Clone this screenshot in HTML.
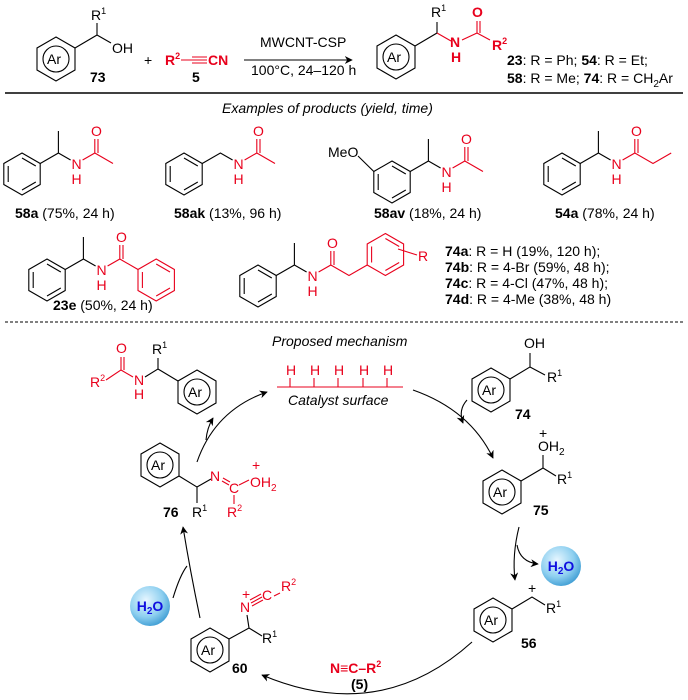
<!DOCTYPE html>
<html><head><meta charset="utf-8"><style>
html,body{margin:0;padding:0;background:#fff}
svg{display:block}
text{font-family:"Liberation Sans",Arial,sans-serif;font-size:14px;fill:#000}
.r{fill:#e8001c}
.b{font-weight:bold}
.i{font-style:italic}
.k{stroke:#000;stroke-width:1.1;fill:none}
.rd{stroke:#e8001c;stroke-width:1.1;fill:none}
</style></head><body>
<svg width="688" height="700" viewBox="0 0 688 700" xmlns="http://www.w3.org/2000/svg">
<defs>
<g id="ph" fill="none">
<polygon points="0,-21 18.2,-10.5 18.2,10.5 0,21 -18.2,10.5 -18.2,-10.5"/>
<line x1="0" y1="-16" x2="13.8" y2="-8"/><line x1="13.8" y1="8" x2="0" y2="16"/><line x1="-13.8" y1="8" x2="-13.8" y2="-8"/>
</g>
<g id="ar" fill="none">
<polygon points="0,-22 19,-11 19,11 0,22 -19,11 -19,-11"/>
<circle r="13"/>
</g>
<radialGradient id="wg" cx="0.4" cy="0.35" r="0.7">
<stop offset="0" stop-color="#e6f6ff"/><stop offset="0.6" stop-color="#8fd0f0"/><stop offset="1" stop-color="#3a9ad2"/>
</radialGradient>
<marker id="ah" viewBox="0 0 10 10" refX="9" refY="5" markerWidth="8" markerHeight="8" orient="auto-start-reverse" markerUnits="userSpaceOnUse">
<path d="M0,0 L10,5 L0,10 L3,5 z" fill="#000"/>
</marker>
</defs>

<!-- TOP SCHEME -->
<use href="#ar" transform="translate(56,59)" stroke="#000" stroke-width="1.1"/>
<text x="47" y="64">Ar</text>
<path class="k" d="M75,48 L97,35 L97,23 M97,35 L111,43"/>
<text x="91" y="20">R<tspan dy="-6" font-size="9">1</tspan></text>
<text x="112" y="53">OH</text>
<text x="90" y="82" class="b">73</text>
<text x="144" y="65" font-size="16">+</text>
<text x="165" y="65" class="r b">R<tspan dy="-6" font-size="9">2</tspan></text>
<path class="rd" d="M181,60 L207,60 M192,57 L207,57 M192,63 L207,63"/>
<text x="208" y="65" class="r b">CN</text>
<text x="192" y="82" class="b">5</text>
<line x1="244" y1="60" x2="352" y2="60" class="k" marker-end="url(#ah)"/>
<text x="260" y="47" font-size="13">MWCNT-CSP</text>
<text x="251" y="75" font-size="13">100°C, 24–120 h</text>

<use href="#ar" transform="translate(396,57)" stroke="#000" stroke-width="1.1"/>
<text x="387" y="62">Ar</text>
<path class="k" d="M415,46 L437,33 L437,22"/>
<text x="431" y="17">R<tspan dy="-6" font-size="9">1</tspan></text>
<path class="rd" d="M437,33 L451,41 M462,40 L477,33 L477,21 M480,33 L480,21 M477,33 L490,40"/>
<text x="450" y="47" class="r b">N</text>
<text x="451" y="62" class="r b">H</text>
<text x="472" y="17" class="r b">O</text>
<text x="492" y="50" class="r b">R<tspan dy="-6" font-size="9">2</tspan></text>
<text x="507" y="65"><tspan class="b">23</tspan>: R = Ph; <tspan class="b">54</tspan>: R = Et;</text>
<text x="507" y="83"><tspan class="b">58</tspan>: R = Me; <tspan class="b">74</tspan>: R = CH<tspan dy="4" font-size="10">2</tspan><tspan dy="-4">Ar</tspan></text>
<line x1="5" y1="93" x2="683" y2="93" stroke="#000" stroke-width="1.5"/>

<!-- EXAMPLES -->
<text x="222" y="113" class="i" font-size="13.5">Examples of products (yield, time)</text>

<!-- 58a -->
<use href="#ph" transform="translate(22,174)" stroke="#000" stroke-width="1.1"/>
<path class="k" d="M40.2,163.5 L58.4,153 L58.4,131 M58.4,153 L70.6,160"/>
<path class="rd" d="M82.6,160 L94.8,153 L94.8,139 M98,153 L98,139 M94.8,153 L113,163.5"/>
<text x="71.5" y="169" class="r">N</text><text x="71.5" y="184" class="r">H</text>
<text x="91" y="136" class="r">O</text>
<text x="15" y="218"><tspan class="b">58a</tspan> (75%, 24 h)</text>

<!-- 58ak -->
<use href="#ph" transform="translate(184,174)" stroke="#000" stroke-width="1.1"/>
<path class="k" d="M202.2,163.5 L220.4,153 L232.6,160"/>
<path class="rd" d="M244.6,160 L256.8,153 L256.8,139 M260,153 L260,139 M256.8,153 L275,163.5"/>
<text x="233.5" y="169" class="r">N</text><text x="233.5" y="184" class="r">H</text>
<text x="253" y="136" class="r">O</text>
<text x="174" y="218"><tspan class="b">58ak</tspan> (13%, 96 h)</text>

<!-- 58av -->
<use href="#ph" transform="translate(392,182)" stroke="#000" stroke-width="1.1"/>
<path class="k" d="M373.8,171.5 L358,156 M410.2,171.5 L428.4,161 L428.4,139 M428.4,161 L440.6,168"/>
<text x="328" y="157">MeO</text>
<path class="rd" d="M452.6,168 L464.8,161 L464.8,147 M468,161 L468,147 M464.8,161 L483,171.5"/>
<text x="441.5" y="177" class="r">N</text><text x="441.5" y="192" class="r">H</text>
<text x="461" y="144" class="r">O</text>
<text x="374" y="218"><tspan class="b">58av</tspan> (18%, 24 h)</text>

<!-- 54a -->
<use href="#ph" transform="translate(562,174)" stroke="#000" stroke-width="1.1"/>
<path class="k" d="M580.2,163.5 L598.4,153 L598.4,131 M598.4,153 L610.6,160"/>
<path class="rd" d="M622.6,160 L634.8,153 L634.8,139 M638,153 L638,139 M634.8,153 L653,163.5 L671.2,153"/>
<text x="611.5" y="169" class="r">N</text><text x="611.5" y="184" class="r">H</text>
<text x="631" y="136" class="r">O</text>
<text x="555" y="218"><tspan class="b">54a</tspan> (78%, 24 h)</text>

<!-- 23e -->
<use href="#ph" transform="translate(47,280)" stroke="#000" stroke-width="1.1"/>
<path class="k" d="M65.2,269.5 L83.4,259 L83.4,237 M83.4,259 L95.6,266"/>
<path class="rd" d="M107.6,266 L119.8,259 L119.8,245 M123,259 L123,245 M119.8,259 L138,269.5"/>
<use href="#ph" transform="translate(156.2,280)" stroke="#e8001c" stroke-width="1.1"/>
<text x="96.5" y="275" class="r">N</text><text x="96.5" y="290" class="r">H</text>
<text x="116" y="242" class="r">O</text>
<text x="53" y="310"><tspan class="b">23e</tspan> (50%, 24 h)</text>

<!-- 74 -->
<use href="#ph" transform="translate(258,286)" stroke="#000" stroke-width="1.1"/>
<path class="k" d="M276.2,275.5 L294.4,265 L294.4,243 M294.4,265 L306.6,272"/>
<path class="rd" d="M318.6,272 L330.8,265 L330.8,251 M334,265 L334,251 M330.8,265 L349,275.5 L367.2,265"/>
<use href="#ph" transform="translate(385.4,254.5)" stroke="#e8001c" stroke-width="1.1"/>
<path class="rd" d="M398,249 L417,255"/>
<text x="418" y="261" class="r">R</text>
<text x="307.5" y="281" class="r">N</text><text x="307.5" y="296" class="r">H</text>
<text x="327" y="248" class="r">O</text>
<text x="445" y="256"><tspan class="b">74a</tspan>: R = H (19%, 120 h);</text>
<text x="445" y="272"><tspan class="b">74b</tspan>: R = 4-Br (59%, 48 h);</text>
<text x="445" y="288"><tspan class="b">74c</tspan>: R = 4-Cl (47%, 48 h);</text>
<text x="445" y="304"><tspan class="b">74d</tspan>: R = 4-Me (38%, 48 h)</text>

<line x1="5" y1="322" x2="683" y2="322" stroke="#000" stroke-width="1" stroke-dasharray="3,2"/>

<!-- MECHANISM -->
<text x="272" y="346" class="i" font-size="13.5">Proposed mechanism</text>
<path class="rd" d="M277,387 L403,387 M290,378 L290,387 M314,378 L314,387 M338,378 L338,387 M363,378 L363,387 M387,378 L387,387"/>
<text x="286" y="375" class="r" font-size="13">H</text><text x="310" y="375" class="r" font-size="13">H</text><text x="334" y="375" class="r" font-size="13">H</text><text x="359" y="375" class="r" font-size="13">H</text><text x="383" y="375" class="r" font-size="13">H</text>
<text x="288" y="405" class="i" font-size="13.5">Catalyst surface</text>

<!-- top-left product -->
<text x="90" y="387" class="r">R<tspan dy="-6" font-size="9">2</tspan></text>
<path class="rd" d="M106,380 L121,370 L121,357 M124,370 L124,357 M121,370 L133,377"/>
<text x="116" y="353" class="r">O</text>
<text x="134" y="385" class="r">N</text><text x="134" y="399" class="r">H</text>
<path class="k" d="M145,377 L158,369 L158,358 M158,369 L178,381"/>
<text x="152" y="354">R<tspan dy="-6" font-size="9">1</tspan></text>
<use href="#ar" transform="translate(197,392)" stroke="#000" stroke-width="1.1"/>
<text x="188" y="397">Ar</text>

<!-- 74 -->
<use href="#ar" transform="translate(491,390)" stroke="#000" stroke-width="1.1"/>
<text x="482" y="395">Ar</text>
<path class="k" d="M510,379 L530,367 L530,353 M530,367 L545,375"/>
<text x="524" y="348">OH</text>
<text x="547" y="382">R<tspan dy="-6" font-size="9">1</tspan></text>
<text x="515" y="419" class="b">74</text>

<!-- 75 -->
<use href="#ar" transform="translate(502,492)" stroke="#000" stroke-width="1.1"/>
<text x="493" y="497">Ar</text>
<path class="k" d="M521,481 L543,468 L543,455 M543,468 L556,476"/>
<text x="538" y="451">OH<tspan dy="4" font-size="10">2</tspan></text>
<text x="539" y="438" font-size="10">+</text>
<text x="557" y="484">R<tspan dy="-6" font-size="9">1</tspan></text>
<text x="533" y="515" class="b">75</text>

<!-- 76 -->
<use href="#ar" transform="translate(160,465)" stroke="#000" stroke-width="1.1"/>
<text x="151" y="470">Ar</text>
<path class="k" d="M179,476 L197,487 L197,503 M197,487 L211,479"/>
<text x="192" y="517">R<tspan dy="-6" font-size="9">1</tspan></text>
<text x="163" y="517" class="b">76</text>
<text x="210" y="481" class="r">N</text>
<path class="rd" d="M222,481 L229,485 M223,478 L230,482 M239,485 L249,480 M234,495 L234,504"/>
<text x="229" y="493" class="r">C</text>
<text x="250" y="487" class="r">OH<tspan dy="4" font-size="10">2</tspan></text>
<text x="252" y="470" font-size="10" class="r">+</text>
<text x="227" y="517" class="r">R<tspan dy="-6" font-size="9">2</tspan></text>

<!-- 56 -->
<use href="#ar" transform="translate(493,620)" stroke="#000" stroke-width="1.1"/>
<text x="484" y="625">Ar</text>
<path class="k" d="M512,609 L532,597 L545,605"/>
<text x="528" y="593" font-size="10">+</text>
<text x="546" y="613">R<tspan dy="-6" font-size="9">1</tspan></text>
<text x="521" y="648" class="b">56</text>

<!-- 60 -->
<use href="#ar" transform="translate(210,650)" stroke="#000" stroke-width="1.1"/>
<text x="201" y="655">Ar</text>
<path class="k" d="M229,639 L249,628 L262,636 M249,628 L247,615"/>
<text x="262" y="643">R<tspan dy="-6" font-size="9">1</tspan></text>
<text x="232" y="673" class="b">60</text>
<text x="240" y="612" class="r">N</text>
<text x="242" y="599" font-size="10" class="r">+</text>
<path class="rd" d="M251,603 L262,597 M250,600 L261,594 M252,606 L263,600 M274,596 L280,593"/>
<text x="262" y="600" class="r">C</text>
<text x="281" y="591" class="r">R<tspan dy="-6" font-size="9">2</tspan></text>

<text x="330" y="673" class="r b">N≡C–R<tspan dy="-6" font-size="9">2</tspan></text>
<text x="351" y="689" class="b">(5)</text>

<!-- H2O -->
<circle cx="561" cy="566" r="20" fill="url(#wg)"/>
<text x="561" y="571" text-anchor="middle" class="b" style="fill:#1010e0">H<tspan dy="3" font-size="10">2</tspan><tspan dy="-3">O</tspan></text>
<circle cx="150" cy="606" r="20" fill="url(#wg)"/>
<text x="150" y="611" text-anchor="middle" class="b" style="fill:#1010e0">H<tspan dy="3" font-size="10">2</tspan><tspan dy="-3">O</tspan></text>

<!-- arrows -->
<g class="k" stroke-width="1">
<path d="M197,462 Q215,410 267,392" marker-end="url(#ah)"/>
<path d="M206,440 Q207,428 213,418" marker-end="url(#ah)"/>
<path d="M413,390 Q470,410 493,458" marker-end="url(#ah)"/>
<path d="M467,400 Q458,410 463,423" marker-end="url(#ah)"/>
<path d="M519,527 Q512,555 515,580" marker-end="url(#ah)"/>
<path d="M517,545 Q520,562 538,564" marker-end="url(#ah)"/>
<path d="M472,642 Q380,725 262,675" marker-end="url(#ah)"/>
<path d="M200,618 Q190,570 183,527" marker-end="url(#ah)"/>
<path d="M173,598 Q180,575 187,566"/>
</g>
</svg>
</body></html>
